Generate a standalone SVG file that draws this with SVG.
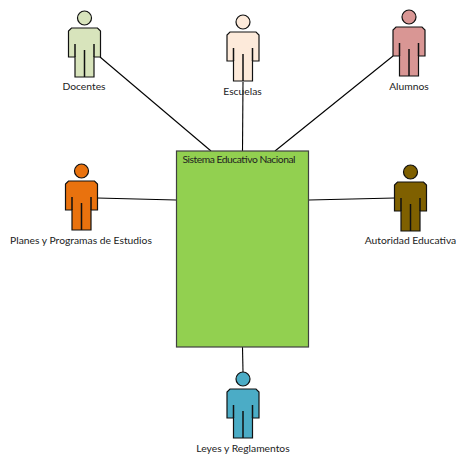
<svg xmlns="http://www.w3.org/2000/svg" xmlns:xlink="http://www.w3.org/1999/xlink" width="456" height="455" viewBox="0 0 456 455">
<style>
text{font-family:Lato,"Open Sans",sans-serif;font-size:10.3px;fill:#222}
.l{text-anchor:middle}
.c line{stroke:#000;stroke-width:1.1}
.o{stroke:#111;stroke-width:1.5;stroke-linejoin:round;fill:none}
</style>
<defs>
<g id="actor">
<circle cx="0" cy="-31" r="7"/>
<path d="M-13-21H13L16-18V8H9.500V28H-9.500V8H-16V-18Z"/>
<path class="o" d="M-9.500-5V8M9.500-5V8M0 1V28"/>
</g>
</defs>
<rect width="456" height="455" fill="#fff"/>
<g id="connectors" class="c">
<line x1="100" y1="57" x2="211" y2="151"/>
<line x1="243" y1="82" x2="242.500" y2="151"/>
<line x1="393" y1="56" x2="275" y2="151"/>
<line x1="97" y1="198" x2="176" y2="200"/>
<line x1="309" y1="200" x2="395" y2="198"/>
<line x1="242.500" y1="347" x2="243" y2="372"/>
</g>
<g id="sistema"><rect x="176.500" y="151" width="132" height="196" fill="#92d050" stroke="#404040" stroke-width="1.200"/><text x="182.500" y="163" textLength="113">Sistema Educativo Nacional</text></g>
<g id="docentes"><use xlink:href="#actor" transform="translate(84.500 49)" fill="#d8e4bc" stroke="#111" stroke-width="1.200"/><text class="l" x="84" y="90">Docentes</text></g>
<g id="escuelas"><use xlink:href="#actor" transform="translate(243 53)" fill="#fdeada" stroke="#111" stroke-width="1.200"/><text class="l" x="242.500" y="95">Escuelas</text></g>
<g id="alumnos"><use xlink:href="#actor" transform="translate(409 48)" fill="#d99694" stroke="#111" stroke-width="1.200"/><text class="l" x="409" y="90">Alumnos</text></g>
<g id="planes"><use xlink:href="#actor" transform="translate(81.500 202)" fill="#e9720e" stroke="#111" stroke-width="1.200"/><text class="l" x="81" y="244">Planes y Programas de Estudios</text></g>
<g id="autoridad"><use xlink:href="#actor" transform="translate(410.500 203)" fill="#7f6000" stroke="#111" stroke-width="1.200"/><text class="l" x="410.500" y="244">Autoridad Educativa</text></g>
<g id="leyes"><use xlink:href="#actor" transform="translate(243 410)" fill="#4bacc6" stroke="#111" stroke-width="1.200"/><text class="l" x="243" y="452">Leyes y Reglamentos</text></g>
</svg>
